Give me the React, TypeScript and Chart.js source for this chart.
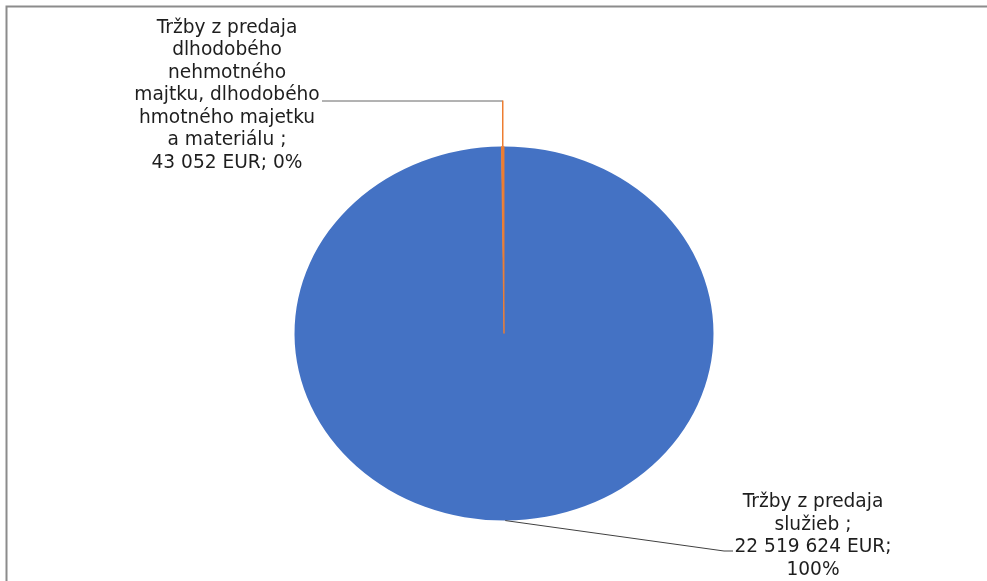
import { useEffect, useRef } from "react";
import { Chart, registerables } from "chart.js";

Chart.register(...registerables);

const categories = [
  "Tržby z predaja služieb",
  "Tržby z predaja dlhodobého nehmotného majtku, dlhodobého hmotného majetku a materiálu",
];
const values = [22519624, 43052];
const colors = ["#4472C4", "#ED7D31"];
// wrapped category text, as shown in the labels
const wrappedNames = [
  ["Tržby z predaja", "služieb ;"],
  ["Tržby z predaja", "dlhodobého", "nehmotného", "majtku, dlhodobého", "hmotného majetku", "a materiálu ;"],
];
const currency = "EUR";

const K = 187.5 / 210; // vertical squash of the pie

const fmt = (v: number) => String(v).replace(/\B(?=(\d{3})+(?!\d))/g, " ");

function labelLines(i: number): string[] {
  const total = values.reduce((a, b) => a + b, 0);
  const pct = Math.round((values[i] / total) * 100) + "%";
  const valStr = fmt(values[i]) + " " + currency + ";";
  if (i === 0) return [...wrappedNames[i], valStr, pct];
  return [...wrappedNames[i], valStr + " " + pct];
}

const framePlugin = {
  id: "frame",
  beforeDraw(chart: any) {
    const { ctx, width, height } = chart;
    ctx.save();
    ctx.strokeStyle = "#8c8c8c";
    ctx.lineWidth = 2;
    ctx.beginPath();
    ctx.moveTo(6.5, height);
    ctx.lineTo(6.5, 6.5);
    ctx.lineTo(width, 6.5);
    ctx.stroke();
    ctx.restore();
  },
};

const squashPlugin = {
  id: "squash",
  beforeDatasetsDraw(chart: any) {
    const { ctx, chartArea } = chart;
    const cy = (chartArea.top + chartArea.bottom) / 2;
    ctx.save();
    ctx.translate(0, cy);
    ctx.scale(1, K);
    ctx.translate(0, -cy);
  },
  afterDatasetsDraw(chart: any) {
    chart.ctx.restore();
  },
};

const labelsPlugin = {
  id: "pieLabels",
  afterDraw(chart: any) {
    const { ctx } = chart;
    const meta = chart.getDatasetMeta(0);
    const anchors = meta.data.map((arc: any) => {
      const p = arc.getProps(["x", "y", "startAngle", "endAngle", "outerRadius"], true);
      const mid = (p.startAngle + p.endAngle) / 2;
      return { x: p.x + Math.cos(mid) * p.outerRadius, y: p.y + Math.sin(mid) * p.outerRadius * K };
    });
    ctx.save();
    // leader for slice 0 (bottom)
    const a0 = anchors[0];
    ctx.strokeStyle = "#404040";
    ctx.lineWidth = 1;
    ctx.beginPath();
    ctx.moveTo(a0.x, a0.y);
    ctx.lineTo(724, 551);
    ctx.lineTo(733, 551);
    ctx.stroke();
    // leader for slice 1 (top)
    const a1 = anchors[1];
    ctx.strokeStyle = "#666666";
    ctx.beginPath();
    ctx.moveTo(a1.x, 101);
    ctx.lineTo(322, 101);
    ctx.stroke();
    ctx.strokeStyle = colors[1];
    ctx.lineWidth = 1.5;
    ctx.beginPath();
    ctx.moveTo(a1.x, a1.y);
    ctx.lineTo(a1.x, 100.5);
    ctx.stroke();

    ctx.fillStyle = "#1e1e1e";
    ctx.font = "18.6px 'DejaVu Sans', Verdana, sans-serif";
    ctx.textAlign = "center";
    ctx.textBaseline = "middle";
    const pos = [
      { x: 813, y: 502.5 },
      { x: 227, y: 28 },
    ];
    [0, 1].forEach((i) => {
      labelLines(i).forEach((line, j) => {
        ctx.fillText(line, pos[i].x, pos[i].y + j * 22.5);
      });
    });
    ctx.restore();
  },
};

export default function App() {
  const ref = useRef<HTMLCanvasElement | null>(null);
  useEffect(() => {
    if (!ref.current) return;
    const chart = new Chart(ref.current, {
      type: "pie",
      data: {
        labels: categories,
        datasets: [
          {
            data: values,
            backgroundColor: colors,
            borderColor: colors,
            borderWidth: [0, 1],
            hoverOffset: 0,
          },
        ],
      },
      options: {
        responsive: true,
        maintainAspectRatio: false,
        animation: false,
        layout: { padding: { left: 294, right: 273, top: 123.5, bottom: 37.5 } },
        plugins: { legend: { display: false }, tooltip: { enabled: false } },
      },
      plugins: [framePlugin, squashPlugin, labelsPlugin],
    });
    return () => chart.destroy();
  }, []);
  return (
    <div style={{ position: "fixed", left: 0, top: 0, width: 987, height: 581, background: "#fff" }}>
      <canvas ref={ref} />
    </div>
  );
}
